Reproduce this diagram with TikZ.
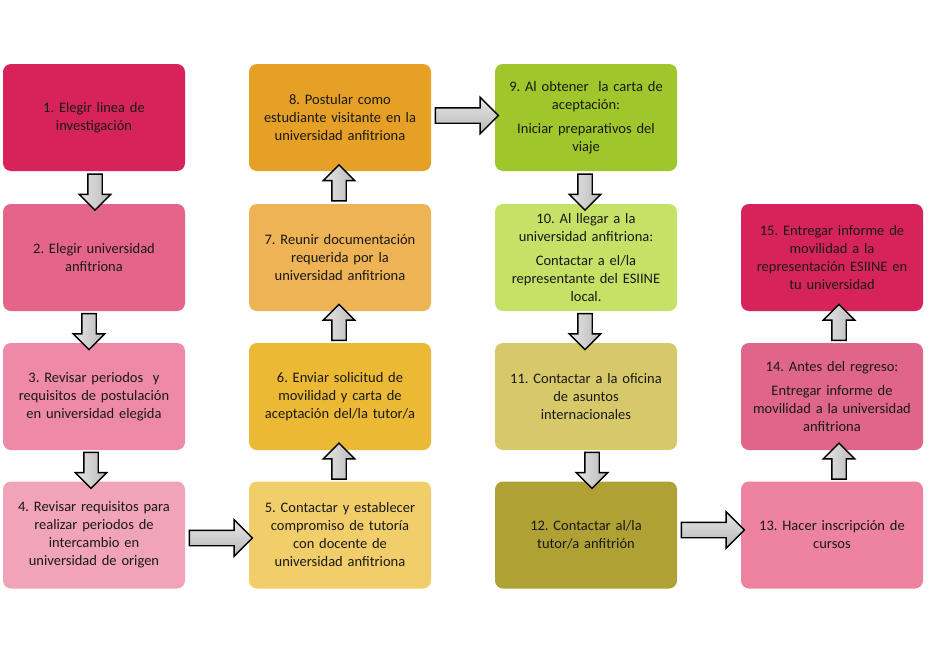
\documentclass[tikz,border=0pt]{standalone}
\usepackage{fontspec}
\setmainfont{Carlito}
\frenchspacing
\usetikzlibrary{shapes.arrows,calc}
\definecolor{cA}{HTML}{D6245A}
\definecolor{cB}{HTML}{E5648A}
\definecolor{cC}{HTML}{EE89A7}
\definecolor{cD}{HTML}{F1A3B9}
\definecolor{cE}{HTML}{F2CE6A}
\definecolor{cF}{HTML}{ECB935}
\definecolor{cG}{HTML}{EDB355}
\definecolor{cH}{HTML}{E6A025}
\definecolor{cI}{HTML}{9FC62A}
\definecolor{cJ}{HTML}{C5E166}
\definecolor{cK}{HTML}{D7C96A}
\definecolor{cL}{HTML}{AFA133}
\definecolor{cM}{HTML}{EE83A1}
\definecolor{cN}{HTML}{E0658A}
\tikzset{
  stepbox/.style={rectangle, rounded corners=8pt, minimum width=182pt, minimum height=107pt,
    inner sep=3pt, align=center, text width=176pt,
    font=\fontsize{14.5pt}{18pt}\selectfont, text=black!90},
  blockarrow/.style={single arrow, draw=black, line width=1.4pt,
    text width=0pt, text height=0pt, text depth=0pt},
  varrow/.style={blockarrow, inner sep=6.5pt, single arrow head extend=8.5pt,
    minimum height=36pt, left color=gray!20, right color=gray!55},
  harrow/.style={blockarrow, inner xsep=0pt, inner ysep=7pt, single arrow head extend=10.5pt,
    minimum height=63pt, top color=gray!20, bottom color=gray!55},
}
\begin{document}
\begin{tikzpicture}[x=1pt,y=-1pt]
\useasboundingbox (0,0) rectangle (930,654);
\fill[white] (0,0) rectangle (930,654);
% column 1
\node[stepbox, fill=cA] (b1) at (94,117.5) {1. Elegir linea de\\investigación};
\node[stepbox, fill=cB] (b2) at (94,257.5) {2. Elegir universidad\\anfitriona};
\node[stepbox, fill=cC] (b3) at (94,396.5) {3. Revisar periodos\ \ y\\requisitos de postulación\\en universidad elegida};
\node[stepbox, fill=cD] (b4) at (94,535) {4. Revisar requisitos para\\realizar periodos de\\intercambio en\\universidad de origen};
% column 2
\node[stepbox, fill=cE] (b5) at (340,535) {5. Contactar y establecer\\compromiso de tutoría\\con docente de\\universidad anfitriona};
\node[stepbox, fill=cF] (b6) at (340,396.5) {6. Enviar solicitud de\\movilidad y carta de\\aceptación del/la tutor/a};
\node[stepbox, fill=cG] (b7) at (340,257.5) {7. Reunir documentación\\requerida por la\\universidad anfitriona};
\node[stepbox, fill=cH] (b8) at (340,117.5) {8. Postular como\\estudiante visitante en la\\universidad anfitriona};
% column 3
\node[stepbox, fill=cI] (b9) at (586,117.5) {9. Al obtener\ \ la carta de\\aceptación:\\[6pt]Iniciar preparativos del\\viaje};
\node[stepbox, fill=cJ] (b10) at (586,257.5) {10. Al llegar a la\\universidad anfitriona:\\[6pt]Contactar a el/la\\representante del ESIINE\\local.};
\node[stepbox, fill=cK] (b11) at (586,396.5) {11. Contactar a la oficina\\de asuntos\\internacionales};
\node[stepbox, fill=cL] (b12) at (586,535) {12. Contactar al/la\\tutor/a anfitrión};
% column 4
\node[stepbox, fill=cM] (b13) at (832,535) {13. Hacer inscripción de\\cursos};
\node[stepbox, fill=cN] (b14) at (832,396.5) {14. Antes del regreso:\\[6pt]Entregar informe de\\movilidad a la universidad\\anfitriona};
\node[stepbox, fill=cA] (b15) at (832,257.5) {15. Entregar informe de\\movilidad a la\\representación ESIINE en\\tu universidad};
% arrows down col 1
\node[varrow, shape border rotate=270] (a12) at ($(b1.south)!.5!(b2.north)+(1,1)$) {};
\node[varrow, shape border rotate=270] (a23) at ($(b2.south)!.5!(b3.north)+(-5,1)$) {};
\node[varrow, shape border rotate=270] (a34) at ($(b3.south)!.5!(b4.north)+(-3,1)$) {};
% right 4->5
\node[harrow] (a45) at ($(b4.east)!.5!(b5.west)+(0,3)$) {};
% up col 2
\node[varrow, shape border rotate=90] (a56) at ($(b5.north)!.5!(b6.south)+(-1,-1)$) {};
\node[varrow, shape border rotate=90] (a67) at ($(b6.north)!.5!(b7.south)+(-1,-1)$) {};
\node[varrow, shape border rotate=90] (a78) at ($(b7.north)!.5!(b8.south)+(-1,-1)$) {};
% right 8->9
\node[harrow] (a89) at ($(b8.east)!.5!(b9.west)+(0,-2)$) {};
% down col 3
\node[varrow, shape border rotate=270] (a910) at ($(b9.south)!.5!(b10.north)+(-1,1)$) {};
\node[varrow, shape border rotate=270] (a1011) at ($(b10.south)!.5!(b11.north)+(-1,1)$) {};
\node[varrow, shape border rotate=270] (a1112) at ($(b11.south)!.5!(b12.north)+(6,1)$) {};
% right 12->13
\node[harrow] (a1213) at ($(b12.east)!.5!(b13.west)+(0,-5)$) {};
% up col 4
\node[varrow, shape border rotate=90] (a1314) at ($(b13.north)!.5!(b14.south)+(7,-1)$) {};
\node[varrow, shape border rotate=90] (a1415) at ($(b14.north)!.5!(b15.south)+(7,-1)$) {};
\end{tikzpicture}
\end{document}
